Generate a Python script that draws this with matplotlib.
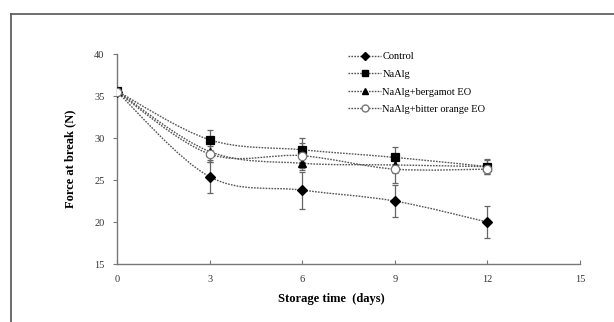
import numpy as np
import matplotlib
matplotlib.use("Agg")
from matplotlib import pyplot as plt
from matplotlib.path import Path
from matplotlib.patches import PathPatch
from matplotlib.lines import Line2D

plt.rcParams['font.family'] = ['Liberation Serif', 'DejaVu Serif']

# storage days and force at break (N)
days = [0, 3, 6, 9, 12]
control = [35.5, 25.4, 23.8, 22.5, 20.0]
control_err = [0.2, 2.0, 2.2, 1.9, 1.9]
naalg = [35.6, 29.8, 28.6, 27.7, 26.6]
naalg_err = [0.2, 1.2, 1.4, 1.2, 0.9]
bergamot = [35.6, 28.4, 27.0, 26.8, 26.6]
bergamot_err = [0.2, 1.3, 0.8, 1.0, 0.8]
bitter = [35.5, 28.1, 27.9, 26.3, 26.3]
bitter_err = [0.2, 1.0, 1.5, 1.6, 0.6]

labels = ['Control', 'NaAlg', 'NaAlg+bergamot EO', 'NaAlg+bitter orange EO']
series = [control, naalg, bergamot, bitter]
errors = [control_err, naalg_err, bergamot_err, bitter_err]
markers = ['D', 's', '^', 'o']
msizes = [5.5, 5.5, 5.5, 6]
faces = ['black', 'black', 'black', 'white']
edges = ['black', 'black', 'black', '#777777']

line_col = '#555555'


def smooth_path(x, y):
    # excel-like smoothed connector (catmull-rom -> bezier)
    x = np.asarray(x, float)
    y = np.asarray(y, float)
    verts = [(x[0], y[0])]
    codes = [Path.MOVETO]
    n = len(x)
    for i in range(n - 1):
        p0 = (x[max(i - 1, 0)], y[max(i - 1, 0)])
        p1 = (x[i], y[i])
        p2 = (x[i + 1], y[i + 1])
        p3 = (x[min(i + 2, n - 1)], y[min(i + 2, n - 1)])
        c1 = (p1[0] + (p2[0] - p0[0]) / 6, p1[1] + (p2[1] - p0[1]) / 6)
        c2 = (p2[0] - (p3[0] - p1[0]) / 6, p2[1] - (p3[1] - p1[1]) / 6)
        verts += [c1, c2, p2]
        codes += [Path.CURVE4] * 3
    return Path(verts, codes)


fig = plt.figure(figsize=(6.14, 3.22), dpi=100)
ax = fig.add_axes([0.1906, 0.180, 0.754, 0.652])

# outer frame (only top and left visible in the crop)
fig.add_artist(Line2D([11 / 614, 11 / 614], [0, 1 - 14 / 322], color='#555555', lw=1.2))
fig.add_artist(Line2D([11 / 614, 1], [1 - 14 / 322, 1 - 14 / 322], color='#555555', lw=1.2))

handles = []
for y, e, m, ms, fc, ec, lab in zip(series, errors, markers, msizes, faces, edges, labels):
    ax.add_patch(PathPatch(smooth_path(days, y), facecolor='none', edgecolor=line_col,
                           lw=1.0, linestyle=(0, (1.2, 0.9)), zorder=2))
    ax.errorbar(days, y, yerr=e, fmt='none', ecolor='#666666', elinewidth=0.9,
                capsize=2.5, capthick=0.9, zorder=3)
    ax.plot(days, y, linestyle='none', marker=m, markersize=ms, markerfacecolor=fc,
            markeredgecolor=ec, markeredgewidth=0.9, zorder=4)
    handles.append(Line2D([], [], color=line_col, lw=1.0, linestyle=(0, (1.2, 0.9)),
                          marker=m, markersize=ms - 1, markerfacecolor=fc,
                          markeredgecolor=ec, label=lab))

ax.set_xlim(0, 15)
ax.set_ylim(15, 40)
ax.set_xticks([0, 3, 6, 9, 12, 15])
ax.set_yticks([15, 20, 25, 30, 35, 40])
ax.spines['top'].set_visible(False)
ax.spines['right'].set_visible(False)
for s in ['left', 'bottom']:
    ax.spines[s].set_color('#777777')
    ax.spines[s].set_linewidth(1.0)
ax.tick_params(axis='x', direction='in', length=3, color='#777777', labelsize=7.5,
               labelcolor='#333333', pad=8)
ax.tick_params(axis='y', direction='out', length=3, color='#777777', labelsize=7.5,
               labelcolor='#333333', pad=6)

ax.set_xlabel('Storage time  (days)', fontsize=9, fontweight='bold', labelpad=4)
ax.xaxis.set_label_coords(0.462, -0.14)
ax.set_ylabel('Force at break (N)', fontsize=9, fontweight='bold')
ax.yaxis.set_label_coords(-0.088, 0.5)

ax.legend(handles=handles, loc='upper left', bbox_to_anchor=(0.49, 1.03), frameon=False,
          fontsize=7.5, handlelength=3.2, handletextpad=0.1, labelspacing=0.8,
          borderaxespad=0)

fig.savefig('out.png', dpi=100)
